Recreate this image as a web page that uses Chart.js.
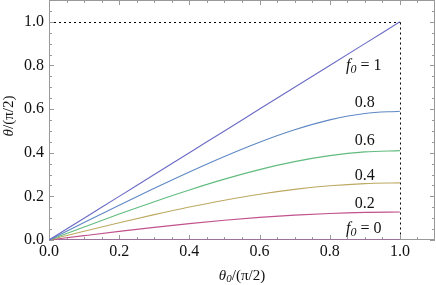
<!DOCTYPE html>
<html>
<head>
<meta charset="utf-8">
<script src="https://cdn.jsdelivr.net/npm/chart.js@4/dist/chart.umd.min.js"></script>
<style>
html, body { margin: 0; padding: 0; background: #fff; }
#wrap { width: 436px; height: 285px; }
</style>
</head>
<body>
<div id="wrap"><canvas id="myChart"></canvas></div>
<script>
const xvalues = [0, 0.1, 0.2, 0.3, 0.4, 0.5, 0.6, 0.7, 0.8, 0.9, 1.0]
const f0values = ['1', '0.8', '0.6', '0.4', '0.2', '0']
const y10 = [0, 0.1, 0.2, 0.3, 0.4, 0.5, 0.6, 0.7, 0.8, 0.9, 1.0]
const y08 = [0, 0.0799, 0.1590, 0.2367, 0.3117, 0.3828, 0.4481, 0.5051, 0.5505, 0.5800, 0.5903]
const y06 = [0, 0.0598, 0.1187, 0.1756, 0.2294, 0.2789, 0.3227, 0.3591, 0.3866, 0.4038, 0.4097]
const y04 = [0, 0.0399, 0.0789, 0.1163, 0.1511, 0.1825, 0.2098, 0.2320, 0.2484, 0.2586, 0.2620]
const y02 = [0, 0.0199, 0.0394, 0.0579, 0.0750, 0.0903, 0.1035, 0.1141, 0.1218, 0.1266, 0.1282]
const y00 = [0, 0, 0, 0, 0, 0, 0, 0, 0, 0, 0]
const colors = ['#6b6bc6', '#5f88c4', '#62bb7e', '#bda962', '#c0528c', '#9b4f9b']
const tickvalues = [0, 0.2, 0.4, 0.6, 0.8, 1.0]
// curve labels, in data coordinates
const labelx = [0.897, 0.90, 0.90, 0.90, 0.90, 0.897]
const labely = [0.798, 0.628, 0.454, 0.294, 0.165, 0.05]

const serif = "Liberation Serif"
const series = [y10, y08, y06, y04, y02, y00]

// draw a string made of parts [text, italic, subscript]
function drawParts(ctx, parts, x, y, size) {
    const fontOf = p => (p[1] ? 'italic ' : '') + Math.round(p[2] ? size * 0.72 : size) + "px 'Liberation Serif'"
    let widths = parts.map(p => {
        ctx.font = fontOf(p)
        return ctx.measureText(p[0]).width
    })
    let total = widths.reduce((a, b) => a + b, 0)
    let cx = x - total / 2
    ctx.textAlign = 'left'
    ctx.textBaseline = 'middle'
    parts.forEach((p, i) => {
        ctx.font = fontOf(p)
        ctx.fillText(p[0], cx, p[2] ? y + size * 0.22 : y)
        cx += widths[i]
    })
}

const framePlugin = {
    id: 'frame',
    beforeDatasetsDraw(chart) {
        const ctx = chart.ctx
        const a = chart.chartArea
        const xs = chart.scales.x, ys = chart.scales.y
        ctx.save()
        // dotted guide lines
        ctx.strokeStyle = '#000'
        ctx.lineWidth = 1
        ctx.setLineDash([2, 3])
        ctx.beginPath()
        let y1 = Math.round(ys.getPixelForValue(1)) + 0.5
        let x1 = Math.round(xs.getPixelForValue(1)) + 0.5
        ctx.moveTo(xs.getPixelForValue(0), y1)
        ctx.lineTo(x1, y1)
        ctx.moveTo(x1, y1)
        ctx.lineTo(x1, ys.getPixelForValue(0))
        ctx.stroke()
        ctx.setLineDash([])
        // frame
        ctx.strokeStyle = '#999'
        ctx.strokeRect(a.left + 0.5, a.top + 0.5, a.right - a.left - 1, a.bottom - a.top - 1)
        // inward ticks on all four sides
        ctx.beginPath()
        for (let i = 0; i <= 22; i++) {
            let v = i * 0.05
            let len = (i % 4 === 0) ? 5 : 3
            let px = Math.round(xs.getPixelForValue(v)) + 0.5
            let py = Math.round(ys.getPixelForValue(v)) + 0.5
            if (px < a.right - 1) {
                ctx.moveTo(px, a.bottom); ctx.lineTo(px, a.bottom - len)
                ctx.moveTo(px, a.top); ctx.lineTo(px, a.top + len)
            }
            if (py > a.top + 1) {
                ctx.moveTo(a.left, py); ctx.lineTo(a.left + len, py)
                ctx.moveTo(a.right, py); ctx.lineTo(a.right - len, py)
            }
        }
        ctx.stroke()
        ctx.restore()
    },
    afterDatasetsDraw(chart) {
        const ctx = chart.ctx
        const xs = chart.scales.x, ys = chart.scales.y
        ctx.save()
        ctx.fillStyle = '#111'
        f0values.forEach((f, i) => {
            let px = xs.getPixelForValue(labelx[i])
            let py = ys.getPixelForValue(labely[i])
            if (i === 0 || i === f0values.length - 1) {
                drawParts(ctx, [['f', true], ['0', true, true], [' = ' + f, false]], px, py, 16)
            } else {
                drawParts(ctx, [[f, false]], px, py, 16)
            }
        })
        // axis titles
        drawParts(ctx, [['θ', true], ['0', true, true], ['/(π/2)', false]], (chart.chartArea.left + chart.chartArea.right) / 2, 276, 15)
        ctx.translate(9, 116)
        ctx.rotate(-Math.PI / 2)
        drawParts(ctx, [['θ', true], ['/(π/2)', false]], 0, 0, 15)
        ctx.restore()
    }
}

new Chart("myChart", {
    type: "line",
    data: {
        datasets: series.map((s, i) => ({
            label: 'f0 = ' + f0values[i],
            data: xvalues.map((x, j) => ({x: x, y: s[j]})),
            borderColor: colors[i],
            backgroundColor: colors[i],
            borderWidth: 1.1,
            pointRadius: 0,
            fill: false,
            cubicInterpolationMode: 'monotone'
        }))
    },
    options: {
        responsive: true,
        maintainAspectRatio: false,
        animation: false,
        layout: {padding: {top: 0, right: 1, left: 0, bottom: 0}},
        plugins: {legend: {display: false}, tooltip: {enabled: false}},
        scales: {
            x: {
                type: 'linear',
                min: 0,
                max: 1.1,
                grid: {display: false, drawTicks: false},
                border: {display: false},
                afterBuildTicks: s => { s.ticks = tickvalues.map(v => ({value: v})) },
                afterFit: s => { s.height = 45; s.paddingLeft = 0; s.paddingRight = 0 },
                ticks: {
                    padding: 2,
                    color: '#111',
                    font: {family: serif, size: 16},
                    maxRotation: 0,
                    callback: v => v.toFixed(1)
                }
            },
            y: {
                type: 'linear',
                min: 0,
                max: 1.1,
                grid: {display: false, drawTicks: false},
                border: {display: false},
                afterBuildTicks: s => { s.ticks = tickvalues.map(v => ({value: v})) },
                afterFit: s => { s.width = 49; s.paddingTop = 0; s.paddingBottom = 0 },
                ticks: {
                    padding: 5,
                    color: '#111',
                    font: {family: serif, size: 16},
                    callback: v => v.toFixed(1)
                }
            }
        }
    },
    plugins: [framePlugin]
})
</script>
</body>
</html>
